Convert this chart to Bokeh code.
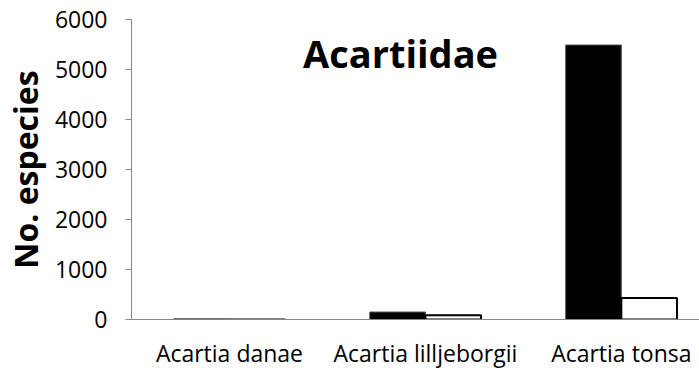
from bokeh.plotting import figure
from bokeh.models import Label, FixedTicker, Range1d
from bokeh.embed import file_html
from bokeh.resources import INLINE

categories = ["Acartia danae", "Acartia lilljeborgii", "Acartia tonsa"]
series_black = [15, 150, 5490]
series_white = [0, 85, 430]
y_ticks = [0, 1000, 2000, 3000, 4000, 5000, 6000]
title_text = "Acartiidae"
y_label = "No. especies"

FONT = "Open Sans"
bar_w = 0.284
centers = [i + 0.5 for i in range(len(categories))]

p = figure(width=699, height=374, output_backend="svg", toolbar_location=None,
           x_range=Range1d(0, 2.899), y_range=Range1d(0, 6000),
           min_border_left=129, min_border_right=0, min_border_top=19,
           min_border_bottom=55)
p.outline_line_color = None
p.grid.visible = False
p.background_fill_color = "white"

p.vbar(x=[c - bar_w / 2 for c in centers], top=series_black, width=bar_w,
       fill_color="black", line_color="#555555", line_width=1)
p.vbar(x=[c + bar_w / 2 for c in centers], top=series_white, width=bar_w,
       fill_color="white", line_color="black", line_width=2)

# y axis
ya = p.yaxis[0]
ya.ticker = FixedTicker(ticks=y_ticks)
ya.axis_line_color = "#868686"
ya.major_tick_line_color = "#868686"
ya.major_tick_out = 6
ya.major_tick_in = 0
ya.minor_tick_line_color = None
ya.major_label_text_font = FONT
ya.major_label_text_font_size = "23px"
ya.major_label_text_color = "black"
ya.major_label_standoff = 18
ya.axis_label = y_label
ya.axis_label_text_font = FONT
ya.axis_label_text_font_style = "bold"
ya.axis_label_text_font_size = "32px"
ya.axis_label_text_color = "black"
ya.axis_label_standoff = 5

# x axis
xa = p.xaxis[0]
xa.ticker = FixedTicker(ticks=centers)
xa.major_label_overrides = {c: n for c, n in zip(centers, categories)}
xa.axis_line_color = "#868686"
xa.major_tick_line_color = None
xa.minor_tick_line_color = None
xa.major_label_text_font = FONT
xa.major_label_text_font_size = "23px"
xa.major_label_text_color = "black"
xa.major_label_standoff = 11

p.add_layout(Label(x=1.373, y=5340, text=title_text, text_align="center",
                   text_baseline="alphabetic", text_font=FONT,
                   text_font_style="bold", text_font_size="38px",
                   text_color="black"))

open("out.html", "w").write(file_html(p, INLINE))
